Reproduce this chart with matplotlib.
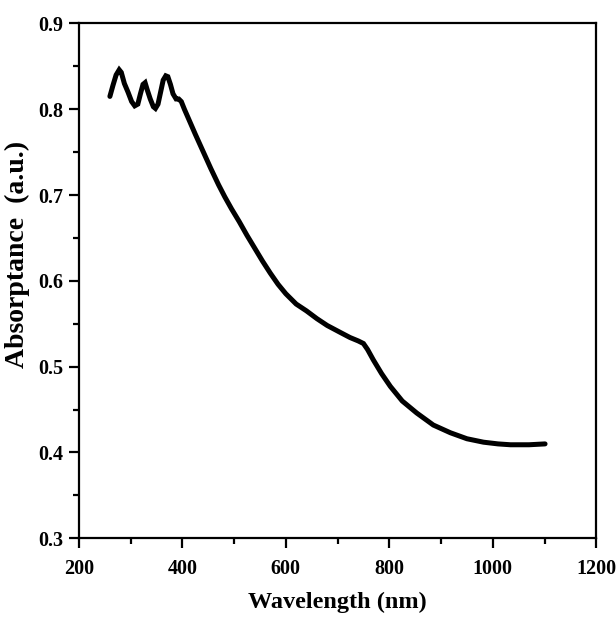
import matplotlib
matplotlib.use("Agg")
import matplotlib.pyplot as plt
from matplotlib.ticker import MultipleLocator

wavelength = [260, 266, 272, 278, 282, 288, 295, 302, 308, 314, 319, 324, 328, 332, 338, 344, 348, 353,
              358, 363, 368, 372, 377, 382, 388, 393, 398, 404, 412, 425, 440, 455, 470, 482,
              495, 510, 525, 540, 555, 570, 585, 600, 620, 640, 660, 680, 705, 724, 740, 750,
              758, 769, 785, 802, 825, 853, 885, 918, 950, 982, 1010, 1034, 1070, 1101]
absorptance = [0.815, 0.828, 0.840, 0.846, 0.843, 0.830, 0.820, 0.809, 0.804, 0.806, 0.818, 0.829, 0.831, 0.823, 0.812, 0.803, 0.801, 0.806,
               0.820, 0.834, 0.839, 0.838, 0.829, 0.818, 0.812, 0.812, 0.809, 0.800, 0.789, 0.771, 0.751, 0.731, 0.712, 0.698,
               0.684, 0.669, 0.653, 0.638, 0.623, 0.609, 0.596, 0.585, 0.573, 0.565, 0.556, 0.548, 0.540, 0.534, 0.530, 0.527,
               0.520, 0.508, 0.492, 0.477, 0.460, 0.446, 0.432, 0.423, 0.416, 0.412, 0.410, 0.409, 0.409, 0.410]

xticks = [200, 400, 600, 800, 1000, 1200]
yticks = [0.3, 0.4, 0.5, 0.6, 0.7, 0.8, 0.9]

plt.rcParams['font.family'] = ['Liberation Serif', 'DejaVu Serif']
plt.rcParams['font.weight'] = 'bold'

fig = plt.figure(figsize=(6.16, 6.18), dpi=100)
ax = fig.add_axes([0.128, 0.129, 0.840, 0.833])
ax.plot(wavelength, absorptance, color='black', lw=3.6, solid_capstyle='round', solid_joinstyle='miter')

ax.set_xlim(200, 1200)
ax.set_ylim(0.3, 0.9)
ax.set_xticks(xticks)
ax.set_yticks(yticks)
ax.set_xticklabels([str(t) for t in xticks], fontsize=14.5, fontweight='bold')
ax.set_yticklabels([f"{t:.1f}" for t in yticks], fontsize=14.5, fontweight='bold')
ax.xaxis.set_minor_locator(MultipleLocator(100))
ax.yaxis.set_minor_locator(MultipleLocator(0.05))
ax.tick_params(axis='x', which='major', pad=8)
ax.tick_params(axis='y', which='major', pad=4)
ax.tick_params(which='major', direction='out', length=7, width=1.6, top=False, right=False)
ax.tick_params(which='minor', direction='out', length=4, width=1.6, top=False, right=False)
for s in ax.spines.values():
    s.set_linewidth(1.6)

ax.set_xlabel('Wavelength (nm)', fontsize=17.5, fontweight='bold', labelpad=9)
ax.set_ylabel('Absorptance  (a.u.)', fontsize=20, fontweight='bold', labelpad=6)
ax.yaxis.set_label_coords(-0.095, 0.552)

fig.savefig('out.png', dpi=100)
